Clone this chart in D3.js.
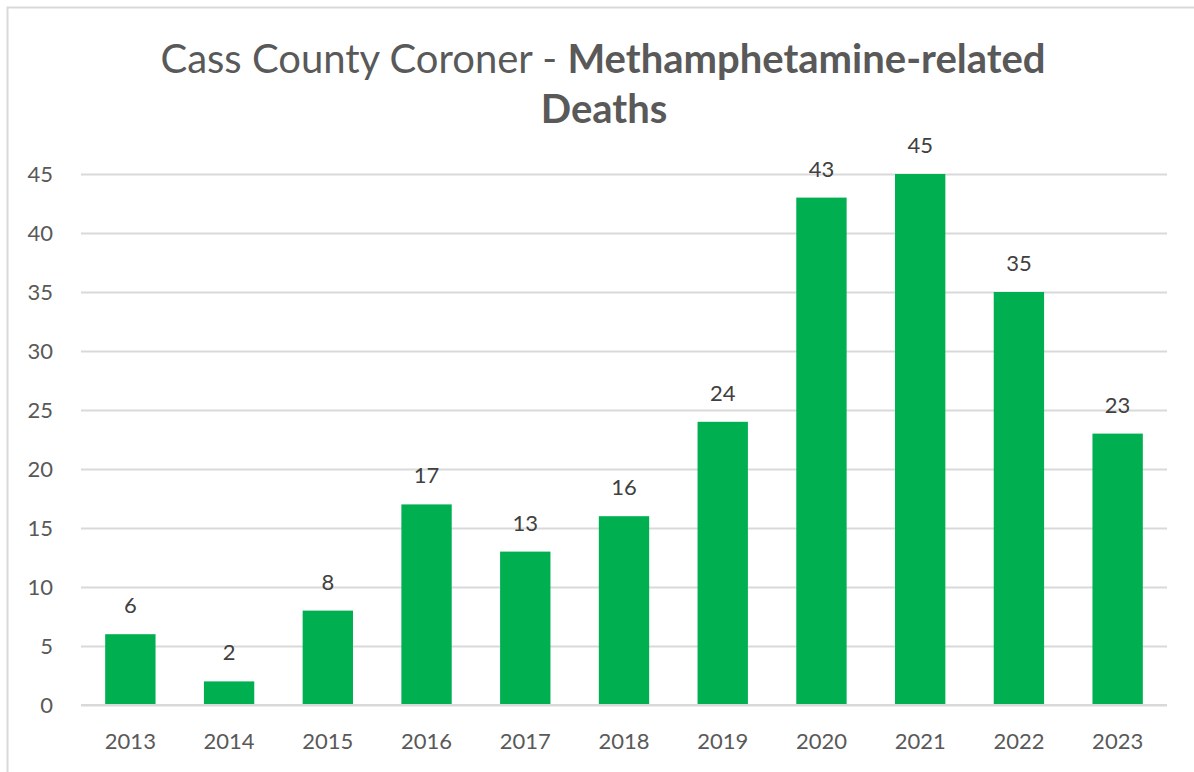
<!DOCTYPE html>
<html>
<head>
<meta charset="utf-8">
<script src="https://cdn.jsdelivr.net/npm/d3@7"></script>
<style>
  html, body { margin: 0; padding: 0; background: #fff; }
  svg { display: block; font-family: Lato, "Open Sans", sans-serif; }
</style>
</head>
<body>
<svg id="chart" width="1194" height="772"></svg>
<script>
const categories = ["2013","2014","2015","2016","2017","2018","2019","2020","2021","2022","2023"];
const deaths = [6, 2, 8, 17, 13, 16, 24, 43, 45, 35, 23];
const yTicks = [0, 5, 10, 15, 20, 25, 30, 35, 40, 45];
const titleRegular = "Cass County Coroner - ";
const titleBold1 = "Methamphetamine-related";
const titleBold2 = "Deaths";

const svg = d3.select("#chart");
const W = 1194, H = 772;
const margin = { left: 81, right: 27, top: 174, bottom: 67 };
const FONT = "Lato, 'Open Sans', sans-serif";

// outer border
svg.append("rect")
  .attr("x", 7.5).attr("y", 7.5)
  .attr("width", W + 20).attr("height", H + 20)
  .attr("fill", "none").attr("stroke", "#d9d9d9").attr("stroke-width", 2);

const x = d3.scaleBand()
  .domain(categories)
  .range([margin.left, W - margin.right])
  .paddingInner(0.49).paddingOuter(0.245);

const y = d3.scaleLinear()
  .domain([0, 45])
  .range([705, 174]);

// gridlines
const yAxis = d3.axisLeft(y).tickValues(yTicks).tickSize(-(W - margin.right - margin.left)).tickPadding(28);
const gy = svg.append("g").attr("transform", `translate(${margin.left},0)`).call(yAxis);
gy.select(".domain").remove();
gy.selectAll(".tick line").attr("stroke", "#d9d9d9").attr("stroke-width", 2);
gy.selectAll(".tick text").attr("fill", "#595959").attr("font-size", 22)
  .attr("font-family", FONT);

// bars
svg.append("g").selectAll("rect")
  .data(categories)
  .join("rect")
  .attr("x", (d) => x(d))
  .attr("width", x.bandwidth())
  .attr("y", (d, i) => y(deaths[i]))
  .attr("height", (d, i) => y(0) - y(deaths[i]))
  .attr("fill", "#00b050");

// redraw baseline over bars
svg.append("line")
  .attr("x1", margin.left).attr("x2", W - margin.right)
  .attr("y1", y(0)).attr("y2", y(0))
  .attr("stroke", "#d9d9d9").attr("stroke-width", 2);

// x axis
const xAxis = d3.axisBottom(x).tickSize(0).tickPadding(28.5);
const gx = svg.append("g").attr("transform", `translate(0,${y(0)})`).call(xAxis);
gx.select(".domain").remove();
gx.selectAll(".tick text").attr("fill", "#595959").attr("font-size", 22)
  .attr("font-family", FONT);

// data labels
svg.append("g").selectAll("text")
  .data(categories)
  .join("text")
  .attr("x", (d) => x(d) + x.bandwidth() / 2)
  .attr("y", (d, i) => y(deaths[i]) - 21)
  .attr("text-anchor", "middle")
  .attr("fill", "#404040")
  .attr("font-size", 22)
  .text((d, i) => deaths[i]);

// title
const t1 = svg.append("text")
  .attr("x", 603).attr("y", 73)
  .attr("text-anchor", "middle")
  .attr("fill", "#595959")
  .attr("font-size", 40);
t1.append("tspan").attr("font-weight", 400).text(titleRegular);
t1.append("tspan").attr("font-weight", 700).text(titleBold1);

svg.append("text")
  .attr("x", 604).attr("y", 123)
  .attr("text-anchor", "middle")
  .attr("fill", "#595959")
  .attr("font-size", 40)
  .attr("font-weight", 700)
  .text(titleBold2);
</script>
</body>
</html>
